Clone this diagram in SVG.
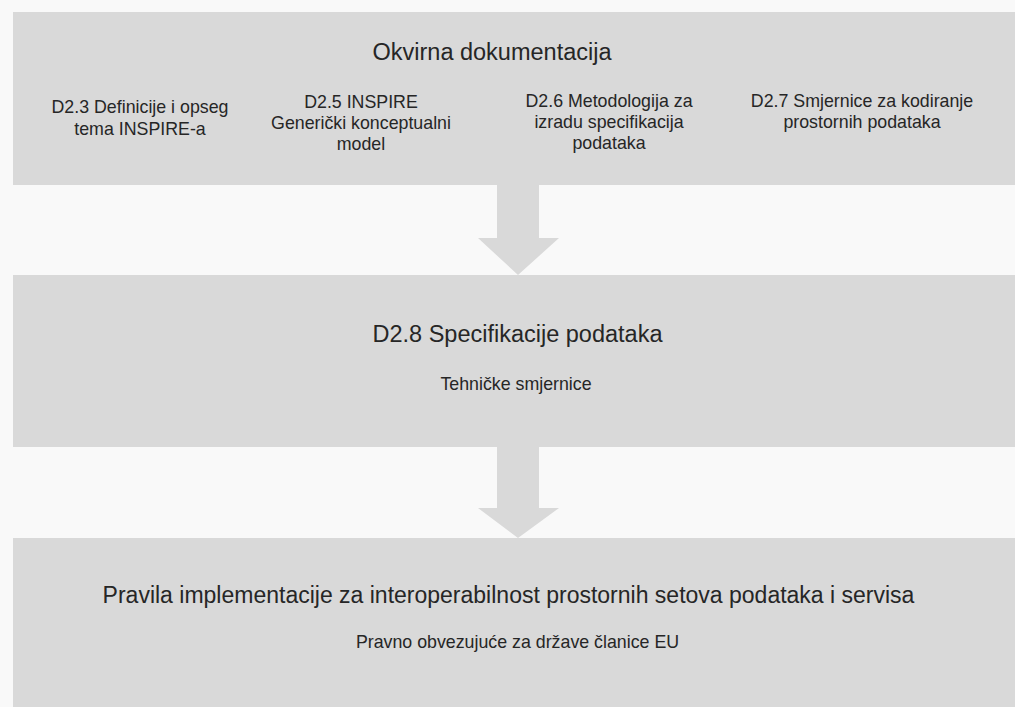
<svg xmlns="http://www.w3.org/2000/svg" width="1015" height="707" viewBox="0 0 1015 707">
<style>
.box{fill:#d9d9d9;}
.arrow{fill:#d9d9d9;}
text{font-family:"Liberation Sans",Arial,Helvetica,sans-serif;fill:#262626;text-anchor:middle;}
.title{font-size:23.5px;}
.title2{font-size:23px;}
.sub{font-size:17.8px;}
</style>
<rect x="0" y="0" width="1015" height="707" fill="#f9f9f9"/>
<g id="okvirna">
<rect class="box" x="13" y="12" width="1002" height="173"/>
<text class="title" x="492" y="60">Okvirna dokumentacija</text>
<text class="sub" x="140" y="113">D2.3 Definicije i opseg</text>
<text class="sub" x="140" y="135">tema INSPIRE-a</text>
<text class="sub" x="361" y="108">D2.5 INSPIRE</text>
<text class="sub" x="361" y="129">Generički konceptualni</text>
<text class="sub" x="361" y="150">model</text>
<text class="sub" x="609" y="107">D2.6 Metodologija za</text>
<text class="sub" x="609" y="128">izradu specifikacija</text>
<text class="sub" x="609" y="149">podataka</text>
<text class="sub" x="862" y="107">D2.7 Smjernice za kodiranje</text>
<text class="sub" x="862" y="128">prostornih podataka</text>
</g>
<g id="specifikacije">
<rect class="box" x="13" y="275" width="1002" height="172"/>
<text class="title" x="517.5" y="342">D2.8 Specifikacije podataka</text>
<text class="sub" x="516" y="390">Tehničke smjernice</text>
</g>
<g id="pravila">
<rect class="box" x="13" y="538" width="1002" height="169"/>
<text class="title2" x="508.5" y="603">Pravila implementacije za interoperabilnost prostornih setova podataka i servisa</text>
<text class="sub" x="517.5" y="648">Pravno obvezujuće za države članice EU</text>
</g>
<g id="connectors">
<polygon class="arrow" points="497,185 539,185 539,238 559,238 518,275 478,238 497,238"/>
<polygon class="arrow" points="497,447 539,447 539,508 559,508 518,538 478,508 497,508"/>
</g>
</svg>
